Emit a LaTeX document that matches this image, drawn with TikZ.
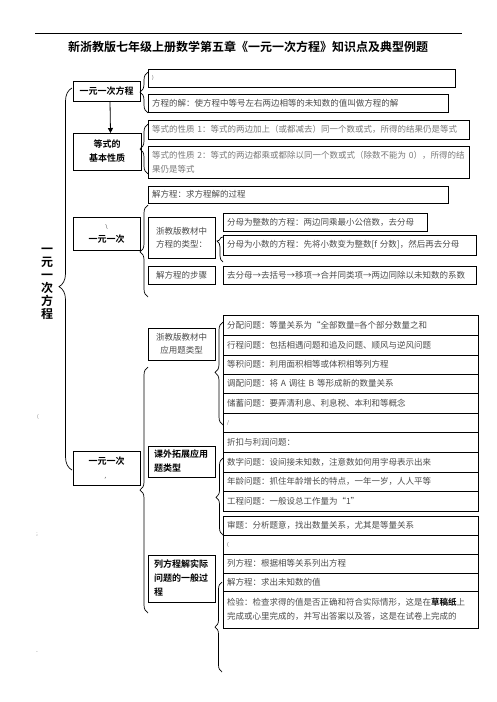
\documentclass[tikz,border=0pt]{standalone}
\usepackage{fontspec}
\setmainfont{Noto Sans CJK SC}[BoldFont={Noto Sans CJK SC Bold}]
\definecolor{mText}{RGB}{75,75,75}
\definecolor{mLight}{RGB}{120,120,120}
\usetikzlibrary{arrows.meta,positioning,calc,decorations.pathreplacing}

\begin{document}
\begin{tikzpicture}[x=1pt, y=-1pt,
    every node/.style={font=\fontsize{8.5}{14}\selectfont},
    rowbox/.style 2 args={draw, line width=0.8pt, anchor=north west, inner xsep=4pt, inner ysep=0pt,
      outer sep=0pt, text width=#1, minimum height=#2, align=left, text=mText},
    keybox/.style 2 args={draw, line width=0.8pt, anchor=north west, inner sep=0pt, outer sep=0pt,
      minimum width=#1, minimum height=#2, align=center, font=\fontsize{9}{14}\selectfont\bfseries},
    notebox/.style 2 args={keybox={#1}{#2}, font=\fontsize{8.5}{13}\selectfont, text=mText},
    leftbox/.style={draw, line width=0.8pt, anchor=north west, inner xsep=6pt, inner ysep=0pt,
      outer sep=0pt, text width=55pt, minimum height=#1, align=left, font=\fontsize{9}{14}\selectfont\bfseries},
    curly/.style 2 args={decorate, decoration={brace, amplitude=#1, aspect=#2}, line width=0.7pt},
    speck/.style={text=mLight, font=\fontsize{5}{6}\selectfont, inner sep=0pt},
  ]
  \useasboundingbox (0,0) rectangle (496,702);

  % title
  \draw[line width=0.8pt] (35,33) -- (462,33);
  \node[font=\fontsize{12}{14}\selectfont\bfseries] (title) at (248,47)
    {新浙教版七年级上册数学第五章《一元一次方程》知识点及典型例题};

  % whole chapter
  \node[font=\fontsize{12}{13}\selectfont\bfseries, align=center] (chapter) at (47,284)
    {一\\元\\一\\次\\方\\程};
  \draw[curly={13}{0.48}] (72,470) -- (72,88);
  \node[speck] (speckA) at (38,417) {(};
  \node[speck] (speckB) at (37,535) {;};
  \node[speck] (speckC) at (37,653) {-};

  % equation and its solution
  \node[keybox={67}{20}] (eqn) at (73,81) {一元一次方程};
  \draw[curly={8}{0.51}] (148,113) -- (148,72);
  \node[rowbox={299}{18}] (blankA) at (148,69) {{\fontsize{5}{6}\selectfont )}};
  \node[rowbox={292}{18}] (root) at (148,94) {方程的解：使方程中等号左右两边相等的未知数的值叫做方程的解};

  % properties of equalities
  \node[keybox={68}{37}] (prop) at (73,133) {等式的\\基本性质};
  \draw[-{Triangle[length=5pt,width=5pt]}, line width=0.8pt]
    ([xshift=3.5pt]eqn.south) -- ([xshift=3.5pt]prop.north);
  \draw[curly={8}{0.5}] (148,174) -- (148,124);
  \node[rowbox={313}{19}, text=mLight] (propA) at (148,120)
    {等式的性质 1：等式的两边加上（或都减去）同一个数或式，所得的结果仍是等式};
  \node[rowbox={313}{32}, text=mLight] (propB) at (148,146)
    {等式的性质 2：等式的两边都乘或都除以同一个数或式（除数不能为 0），所得的结\\果仍是等式};

  % solving
  \node[keybox={67}{33}] (linear) at (73,217) {{\fontsize{5}{6}\selectfont\mdseries \textbackslash}\\一元一次};
  \node[rowbox={292}{17}] (solve) at (148,186) {解方程：求方程解的过程};
  \draw[curly={8}{0.49}] (148,297) -- (148,205);
  \node[notebox={67}{41}] (types) at (148,217) {浙教版教材中\\方程的类型：};
  \node[notebox={67}{18}] (steps) at (148,266) {解方程的步骤};
  \node[rowbox={196}{18}] (intden) at (223,213) {分母为整数的方程：两边同乘最小公倍数，去分母};
  \draw[curly={6}{0.84}] (223,262) -- (223,237);
  \node[rowbox={245}{20}] (decden) at (223,235) {分母为小数的方程：先将小数变为整数[f 分数]，然后再去分母};
  \node[rowbox={245}{18}] (order) at (223,266) {去分母→去括号→移项→合并同类项→两边同除以未知数的系数};

  % applications
  \node[keybox={67}{34}] (applied) at (73,451) {一元一次\\{\fontsize{5}{6}\selectfont\mdseries ，}};
  \draw[curly={8}{0.5}] (148,613) -- (148,367);
  \node[notebox={67}{32}] (apptypes) at (148,328) {浙教版教材中\\应用题类型};
  \node[leftbox=31] (extra) at (148,446) {课外拓展应用\\题类型};
  \node[leftbox=47] (process) at (148,555) {列方程解实际\\问题的一般过\\程};

  % kinds of word problems
  \draw[curly={8}{0.51}] (223,425) -- (223,322);
  \node[rowbox={247}{20}] (alloc) at (223,315) {分配问题：等量关系为“全部数量=各个部分数量之和};
  \node[rowbox={247}{20}] (travel) at (alloc.south west) {行程问题：包括相遇问题和追及问题、顺风与逆风问题};
  \node[rowbox={247}{19}] (area) at (travel.south west) {等积问题：利用面积相等或体积相等列方程};
  \node[rowbox={247}{19}] (mixing) at (area.south west) {调配问题：将 A 调往 B 等形成新的数量关系};
  \node[rowbox={247}{20}] (saving) at (mixing.south west) {储蓄问题：要弄清利息、利息税、本利和等概念};
  \node[rowbox={247}{19}] (blankB) at (saving.south west) {{\fontsize{5}{6}\selectfont /}};
  \node[rowbox={247}{20}] (discount) at (blankB.south west) {折扣与利润问题：};
  \draw[curly={7}{0.49}] (223,535) -- (223,458);
  \node[rowbox={247}{20}] (digit) at (discount.south west) {数字问题：设间接未知数，注意数如何用字母表示出来};
  \node[rowbox={247}{19}] (age) at (digit.south west) {年龄问题：抓住年龄增长的特点，一年一岁，人人平等};
  \node[rowbox={247}{20}] (work) at (age.south west) {工程问题：一般设总工作量为“1”};

  % general process
  \node[rowbox={247}{19}] (analyse) at (223,516) {审题：分析题意，找出数量关系，尤其是等量关系};
  \node[rowbox={247}{19}] (blankC) at (analyse.south west) {{\fontsize{5}{6}\selectfont (}};
  \node[rowbox={247}{19}] (setup) at (blankC.south west) {列方程：根据相等关系列出方程};
  \draw[curly={7}{0.5}] (222,672) -- (222,582);
  \node[rowbox={247}{18}] (solvex) at (setup.south west) {解方程：求出未知数的值};
  \node[rowbox={247}{37}] (check) at (solvex.south west)
    {检验：检查求得的值是否正确和符合实际情形，这是在\textcolor{black}{\bfseries 草稿纸}上\\完成或心里完成的，并写出答案以及答，这是在试卷上完成的};
\end{tikzpicture}
\end{document}
